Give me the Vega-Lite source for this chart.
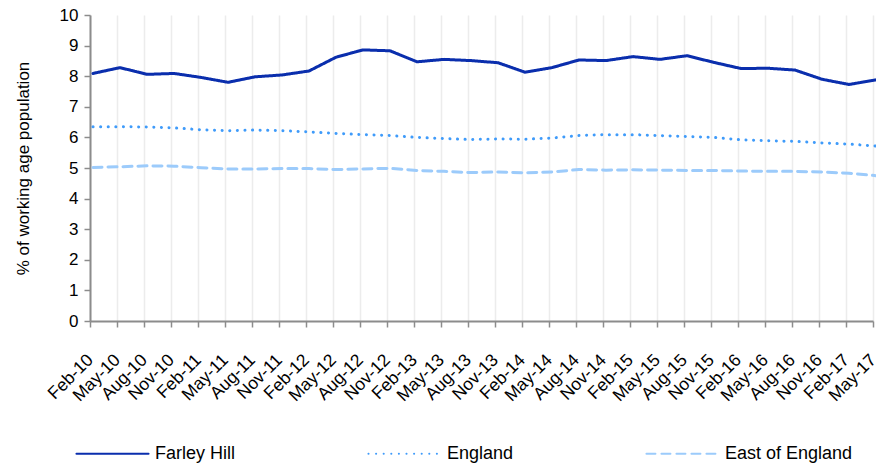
{
  "$schema": "https://vega.github.io/schema/vega-lite/v6.json",
  "autosize": "none",
  "width": 786,
  "height": 306,
  "padding": {"left": 90, "top": 15, "right": 0, "bottom": 144},
  "background": "white",
  "config": {
    "view": {"stroke": null},
    "font": "Liberation Sans"
  },
  "data": {
    "values": [
      {"q": "Feb-10", "FH": 8.09, "EN": 6.35, "EE": 5.02},
      {"q": "May-10", "FH": 8.28, "EN": 6.35, "EE": 5.04},
      {"q": "Aug-10", "FH": 8.06, "EN": 6.34, "EE": 5.07},
      {"q": "Nov-10", "FH": 8.09, "EN": 6.31, "EE": 5.06},
      {"q": "Feb-11", "FH": 7.96, "EN": 6.25, "EE": 5.01},
      {"q": "May-11", "FH": 7.80, "EN": 6.22, "EE": 4.97},
      {"q": "Aug-11", "FH": 7.98, "EN": 6.24, "EE": 4.97},
      {"q": "Nov-11", "FH": 8.04, "EN": 6.22, "EE": 4.98},
      {"q": "Feb-12", "FH": 8.17, "EN": 6.18, "EE": 4.98},
      {"q": "May-12", "FH": 8.62, "EN": 6.13, "EE": 4.95},
      {"q": "Aug-12", "FH": 8.86, "EN": 6.09, "EE": 4.97},
      {"q": "Nov-12", "FH": 8.83, "EN": 6.06, "EE": 4.99},
      {"q": "Feb-13", "FH": 8.47, "EN": 6.00, "EE": 4.92},
      {"q": "May-13", "FH": 8.55, "EN": 5.96, "EE": 4.89},
      {"q": "Aug-13", "FH": 8.51, "EN": 5.93, "EE": 4.85},
      {"q": "Nov-13", "FH": 8.44, "EN": 5.95, "EE": 4.87},
      {"q": "Feb-14", "FH": 8.13, "EN": 5.94, "EE": 4.84},
      {"q": "May-14", "FH": 8.28, "EN": 5.98, "EE": 4.87},
      {"q": "Aug-14", "FH": 8.53, "EN": 6.06, "EE": 4.95},
      {"q": "Nov-14", "FH": 8.51, "EN": 6.09, "EE": 4.93},
      {"q": "Feb-15", "FH": 8.64, "EN": 6.09, "EE": 4.94},
      {"q": "May-15", "FH": 8.55, "EN": 6.06, "EE": 4.93},
      {"q": "Aug-15", "FH": 8.67, "EN": 6.03, "EE": 4.92},
      {"q": "Nov-15", "FH": 8.45, "EN": 6.00, "EE": 4.92},
      {"q": "Feb-16", "FH": 8.25, "EN": 5.92, "EE": 4.90},
      {"q": "May-16", "FH": 8.26, "EN": 5.89, "EE": 4.89},
      {"q": "Aug-16", "FH": 8.20, "EN": 5.87, "EE": 4.89},
      {"q": "Nov-16", "FH": 7.90, "EN": 5.82, "EE": 4.87},
      {"q": "Feb-17", "FH": 7.73, "EN": 5.78, "EE": 4.83},
      {"q": "May-17", "FH": 7.88, "EN": 5.72, "EE": 4.75}
    ]
  },
  "transform": [
    {"fold": ["FH", "EN", "EE"], "as": ["key", "value"]},
    {"lookup": "key", "from": {"data": {"values": [
      {"key": "FH", "series": "Farley Hill"},
      {"key": "EN", "series": "England"},
      {"key": "EE", "series": "East of England"}
    ]}, "key": "key", "fields": ["series"]}}
  ],
  "mark": {"type": "line", "strokeWidth": 3, "strokeCap": "round", "strokeJoin": "round", "xOffset": 3},
  "encoding": {
    "x": {
      "field": "q", "type": "ordinal", "sort": null,
      "scale": {"type": "point", "padding": 0, "range": [0, 783]},
      "axis": {
        "title": null, "labelAngle": -45, "labelFontSize": 17.5, "labelColor": "#000",
        "labelPadding": 30, "labelAlign": "right", "labelBaseline": "middle",
        "domainColor": "#8c8c8c", "domainWidth": 2, "tickColor": "#8c8c8c", "tickWidth": 1.5, "tickSize": 6,
        "grid": true, "gridColor": "#ececec", "gridWidth": 1.5, "labelOverlap": false, "labelBound": false
      }
    },
    "y": {
      "field": "value", "type": "quantitative",
      "scale": {"domain": [0, 10]},
      "axis": {
        "title": "% of working age population", "titleFontSize": 17, "titleFontWeight": "normal", "titleColor": "#000",
        "titlePadding": 27,
        "values": [0, 1, 2, 3, 4, 5, 6, 7, 8, 9, 10],
        "labelFontSize": 17, "labelColor": "#000", "labelPadding": 6,
        "grid": false, "domainColor": "#8c8c8c", "domainWidth": 2, "tickColor": "#8c8c8c", "tickWidth": 1.5, "tickSize": 6
      }
    },
    "color": {
      "field": "series", "type": "nominal",
      "scale": {"domain": ["Farley Hill", "England", "East of England"], "range": ["#0a2ead", "#3f9bfa", "#9ccbfb"]},
      "legend": {
        "title": null, "orient": "none", "direction": "horizontal", "legendX": -15, "legendY": 401,
        "columns": 3, "columnPadding": 128,
        "symbolType": "stroke", "symbolSize": 5200, "symbolStrokeWidth": 2,
        "labelFontSize": 18, "labelColor": "#000", "labelOffset": 5,
        "encode": {
          "symbols": {
            "update": {
              "strokeDash": {"signal": "datum.value === 'England' ? [0.1, 3] : (datum.value === 'East of England' ? [4, 5] : [1, 0])"},
              "strokeCap": {"value": "round"},
              "strokeWidth": {"value": 2}
            }
          }
        }
      }
    },
    "strokeDash": {
      "field": "series", "type": "nominal",
      "scale": {"domain": ["Farley Hill", "England", "East of England"], "range": [[1, 0], [0.1, 7.5], [9, 6]]},
      "legend": null
    }
  }
}
